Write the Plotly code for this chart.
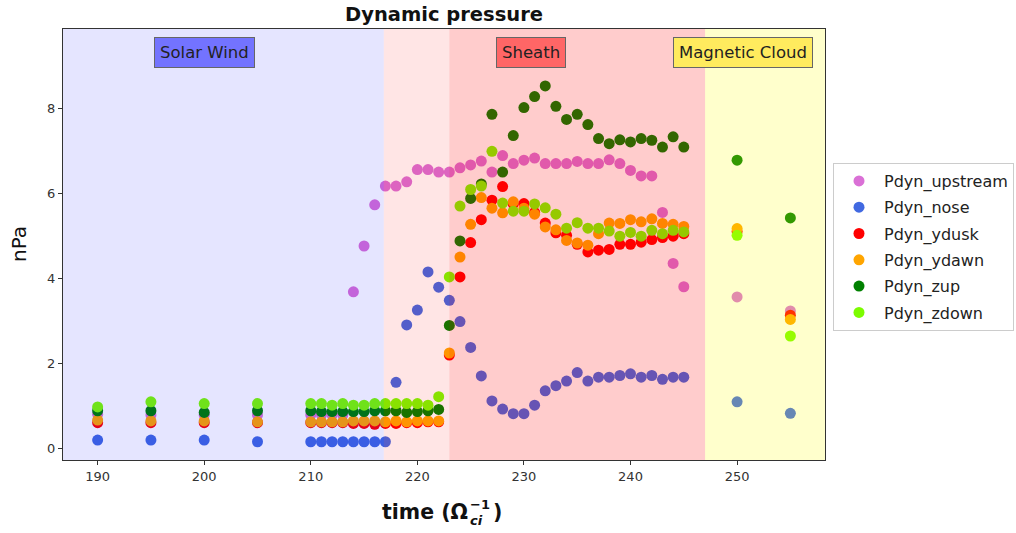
import plotly.graph_objects as go

time = [190, 195, 200, 205] + list(range(210, 246)) + [250, 255]

pdyn_upstream = [0.80, 0.78, 0.78, 0.78,
                 0.78, 0.78, 0.78, 0.78, 3.68, 4.76, 5.73, 6.17, 6.17, 6.27,
                 6.56, 6.56, 6.50, 6.50, 6.60, 6.67, 6.76, 6.50, 6.89, 6.70,
                 6.78, 6.83, 6.70, 6.70, 6.70, 6.75, 6.70, 6.70, 6.79, 6.70,
                 6.54, 6.41, 6.41, 5.55, 4.35, 3.80,
                 3.56, 3.23]
pdyn_nose = [0.19, 0.19, 0.19, 0.15,
             0.15, 0.15, 0.15, 0.15, 0.15, 0.15, 0.15, 0.15, 1.55, 2.90,
             3.25, 4.15, 3.79, 3.48, 2.98, 2.37, 1.70, 1.11, 0.92, 0.81,
             0.81, 1.01, 1.35, 1.47, 1.58, 1.78, 1.58, 1.67, 1.67, 1.71,
             1.75, 1.67, 1.71, 1.62, 1.67, 1.67,
             1.09, 0.82]
pdyn_ydusk = [0.60, 0.60, 0.60, 0.60,
              0.60, 0.60, 0.60, 0.60, 0.58, 0.58, 0.56, 0.58, 0.58, 0.60,
              0.60, 0.62, 0.62, 2.19, 4.03, 4.84, 5.38, 5.84, 6.16, 5.75,
              5.76, 5.55, 5.30, 5.07, 5.01, 4.80, 4.62, 4.66, 4.68, 4.80,
              4.80, 4.85, 4.91, 4.96, 4.99, 5.05,
              5.10, 3.13]
pdyn_ydawn = [0.66, 0.64, 0.64, 0.62,
              0.62, 0.62, 0.62, 0.62, 0.64, 0.64, 0.64, 0.62, 0.64, 0.62,
              0.64, 0.64, 0.64, 2.24, 4.50, 5.27, 5.90, 5.65, 5.54, 5.80,
              5.65, 5.51, 5.21, 5.14, 4.89, 4.83, 4.78, 5.05, 5.30, 5.29,
              5.38, 5.33, 5.40, 5.29, 5.27, 5.22,
              5.17, 3.03]
pdyn_zup = [0.88, 0.88, 0.84, 0.88,
            0.88, 0.86, 0.86, 0.86, 0.86, 0.86, 0.88, 0.88, 0.88, 0.84,
            0.86, 0.88, 0.91, 2.89, 4.88, 5.88, 6.22, 7.86, 6.50, 7.36,
            8.02, 8.28, 8.53, 8.05, 7.74, 7.86, 7.62, 7.29, 7.17, 7.26,
            7.21, 7.29, 7.25, 7.09, 7.33, 7.09,
            6.78, 5.42]
pdyn_zdown = [0.97, 1.09, 1.05, 1.05,
              1.05, 1.05, 1.01, 1.05, 1.01, 1.01, 1.05, 1.05, 1.05, 1.05,
              1.05, 1.01, 1.21, 4.03, 5.70, 6.09, 6.17, 6.99, 5.77, 5.58,
              5.58, 5.75, 5.66, 5.51, 5.18, 5.31, 5.18, 5.18, 5.11, 4.99,
              5.08, 4.99, 5.13, 5.05, 5.13, 5.09,
              5.01, 2.64]

series_names = ["Pdyn_upstream", "Pdyn_nose", "Pdyn_ydusk", "Pdyn_ydawn", "Pdyn_zup", "Pdyn_zdown"]
series_values = [pdyn_upstream, pdyn_nose, pdyn_ydusk, pdyn_ydawn, pdyn_zup, pdyn_zdown]
series_colors = ["orchid", "royalblue", "red", "orange", "green", "lawngreen"]

# regions
region_bounds = [186.75, 216.85, 223.0, 247.0, 258.25]
region_fills = ["rgba(0,0,255,0.1)", "rgba(255,0,0,0.1)", "rgba(255,0,0,0.2)", "rgba(255,255,0,0.2)"]

region_labels = ["Solar Wind", "Sheath", "Magnetic Cloud"]
region_label_x = [200.0, 230.7, 250.6]
region_label_y = 9.32
region_label_bg = ["#7373ff", "#ff6666", "#ffeb5e"]

x_range = [186.75, 258.25]
y_range = [-0.28, 9.87]
x_ticks = [190, 200, 210, 220, 230, 240, 250]
y_ticks = [0, 2, 4, 6, 8]

FONT = "DejaVu Sans"

W, H = 1016, 533
L, R, T, B = 63, 825, 29, 460
pw, ph = R - L, B - T


def px(xp):
    return (xp - L) / pw


def py(yp):
    return (B - yp) / ph


fig = go.Figure()
for name, vals, col in zip(series_names, series_values, series_colors):
    fig.add_trace(go.Scatter(
        x=time, y=vals, mode="markers", name=name,
        marker=dict(color=col, size=11, line=dict(width=0)),
        legendgroup=name,
    ))

for x0, x1, fc in zip(region_bounds[:-1], region_bounds[1:], region_fills):
    fig.add_shape(type="rect", xref="x", yref="paper", x0=x0, x1=x1, y0=0, y1=1,
                  fillcolor=fc, line=dict(width=0), layer="above")

ann = []
for lab, lx, bg in zip(region_labels, region_label_x, region_label_bg):
    ann.append(dict(x=lx, y=region_label_y, xref="x", yref="y", text=lab, showarrow=False,
                    font=dict(family=FONT, size=16.5, color="#222222"),
                    bgcolor=bg, bordercolor="#666666", borderwidth=1, borderpad=5,
                    xanchor="center", yanchor="middle"))

ann.append(dict(x=px(19), y=py(244), xref="paper", yref="paper", text="nPa", textangle=-90,
                showarrow=False, font=dict(family=FONT, size=20, color="#111111"),
                xanchor="center", yanchor="middle"))
ann.append(dict(x=px(469), y=py(512), xref="paper", yref="paper", text="<b>time (Ω</b>",
                showarrow=False, font=dict(family=FONT, size=20.5, color="#111111"),
                xanchor="right", yanchor="middle", borderpad=0))
ann.append(dict(x=px(469), y=py(504), xref="paper", yref="paper", text="<b>−1</b>",
                showarrow=False, font=dict(family=FONT, size=13, color="#111111"),
                xanchor="left", yanchor="middle", borderpad=0))
ann.append(dict(x=px(469), y=py(520), xref="paper", yref="paper", text="<b><i>ci</i></b>",
                showarrow=False, font=dict(family=FONT, size=13, color="#111111"),
                xanchor="left", yanchor="middle", borderpad=0))
ann.append(dict(x=px(492), y=py(512), xref="paper", yref="paper", text="<b>)</b>",
                showarrow=False, font=dict(family=FONT, size=20.5, color="#111111"),
                xanchor="left", yanchor="middle", borderpad=0))

fig.update_layout(
    width=W, height=H,
    margin=dict(l=L, r=W - R, t=T, b=H - B, autoexpand=False),
    paper_bgcolor="white", plot_bgcolor="white",
    title=dict(text="<b>Dynamic pressure</b>", x=px(444), xref="paper", xanchor="center",
               y=1 - 14 / H, yref="container", yanchor="middle",
               font=dict(family=FONT, size=19.5, color="#111111")),
    font=dict(family=FONT),
    annotations=ann,
    legend=dict(x=px(833), y=py(163), xanchor="left", yanchor="top",
                font=dict(family=FONT, size=16, color="#222222"),
                bordercolor="#cccccc", borderwidth=1, bgcolor="white",
                tracegroupgap=2.5, itemwidth=40),
    showlegend=True,
)
fig.update_xaxes(range=x_range, tickvals=x_ticks, ticks="outside", ticklen=4, tickcolor="#333",
                 showline=True, linecolor="#333", linewidth=1, mirror=True, showgrid=False,
                 zeroline=False, tickfont=dict(family=FONT, size=13, color="#333"))
fig.update_yaxes(range=y_range, tickvals=y_ticks, ticks="outside", ticklen=4, tickcolor="#333",
                 showline=True, linecolor="#333", linewidth=1, mirror=True, showgrid=False,
                 zeroline=False, tickfont=dict(family=FONT, size=13, color="#333"))

fig.write_html("out.html", config={"displayModeBar": False},
               post_script="document.body.style.margin='0px';document.body.style.overflow='hidden';")
